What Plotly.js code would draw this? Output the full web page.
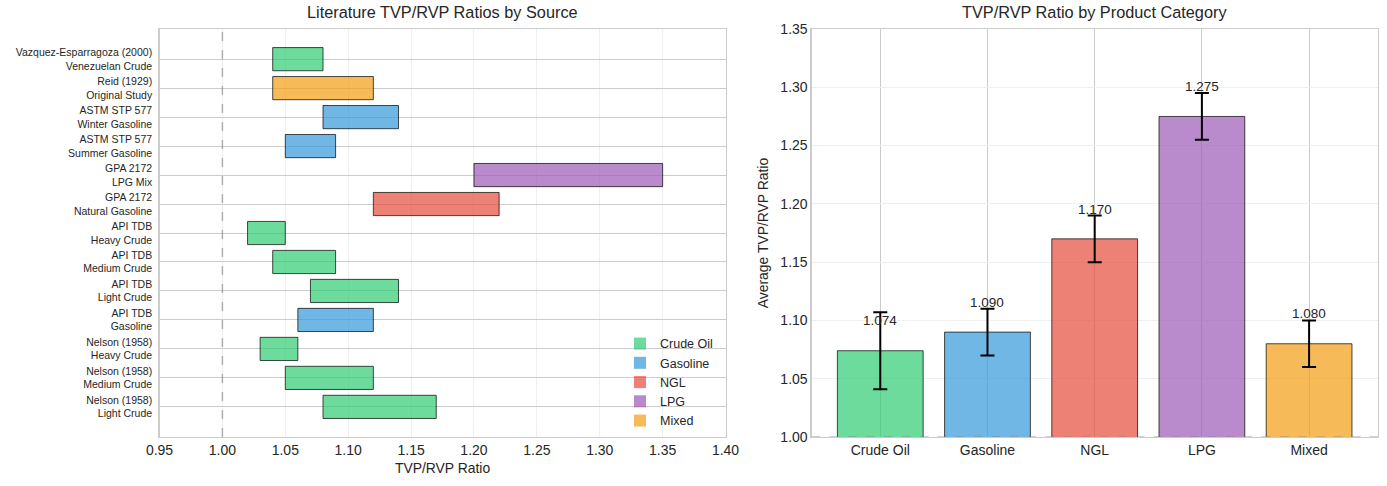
<!DOCTYPE html>
<html>
<head>
<meta charset="utf-8">
<script src="https://cdn.plot.ly/plotly-3.0.1.min.js"></script>
<style>
  body { margin: 0; background: #fff; }
  #chart { width: 1387px; height: 486px; }
</style>
</head>
<body>
<div id="chart"></div>
<script>
// literature sources, bottom to top
var sources = [
  'Nelson (1958)<br>Light Crude',
  'Nelson (1958)<br>Medium Crude',
  'Nelson (1958)<br>Heavy Crude',
  'API TDB<br>Gasoline',
  'API TDB<br>Light Crude',
  'API TDB<br>Medium Crude',
  'API TDB<br>Heavy Crude',
  'GPA 2172<br>Natural Gasoline',
  'GPA 2172<br>LPG Mix',
  'ASTM STP 577<br>Summer Gasoline',
  'ASTM STP 577<br>Winter Gasoline',
  'Reid (1929)<br>Original Study',
  'Vazquez-Esparragoza (2000)<br>Venezuelan Crude'
];
var sourceType = ['Crude Oil', 'Crude Oil', 'Crude Oil', 'Gasoline', 'Crude Oil', 'Crude Oil', 'Crude Oil',
                  'NGL', 'LPG', 'Gasoline', 'Gasoline', 'Mixed', 'Crude Oil'];
var ratioLow  = [1.08, 1.05, 1.03, 1.06, 1.07, 1.04, 1.02, 1.12, 1.20, 1.05, 1.08, 1.04, 1.04];
var ratioHigh = [1.17, 1.12, 1.06, 1.12, 1.14, 1.09, 1.05, 1.22, 1.35, 1.09, 1.14, 1.12, 1.08];

// category summary
var categories = ['Crude Oil', 'Gasoline', 'NGL', 'LPG', 'Mixed'];
var avgRatio = [1.074, 1.090, 1.170, 1.275, 1.080];
var stdRatio = [0.033, 0.020, 0.020, 0.020, 0.020];

var colors = {
  'Crude Oil': 'rgba(46,204,113,0.7)',
  'Gasoline': 'rgba(52,152,219,0.7)',
  'NGL': 'rgba(231,76,60,0.7)',
  'LPG': 'rgba(155,89,182,0.7)',
  'Mixed': 'rgba(243,156,18,0.7)'
};

var FONT = 'Liberation Sans, Arial, sans-serif';
var edge = {color: 'rgba(0,0,0,0.7)', width: 1};

var data = [];

// one trace per product type
categories.forEach(function (cat) {
  var ys = [], lo = [], span = [];
  sources.forEach(function (s, i) {
    if (sourceType[i] === cat) {
      ys.push(s);
      lo.push(ratioLow[i]);
      span.push(+(ratioHigh[i] - ratioLow[i]).toFixed(3));
    }
  });
  data.push({
    type: 'bar',
    orientation: 'h',
    y: ys,
    x: span,
    base: lo,
    width: 0.8,
    name: cat,
    legendgroup: cat,
    showlegend: false,
    marker: {color: colors[cat], line: edge},
    xaxis: 'x',
    yaxis: 'y',
    hoverinfo: 'none'
  });
});

// legend keys without outline (like matplotlib patches)
categories.forEach(function (cat) {
  data.push({
    type: 'bar',
    orientation: 'h',
    y: [null],
    x: [null],
    name: cat,
    legendgroup: cat,
    marker: {color: colors[cat], line: {width: 0}},
    xaxis: 'x',
    yaxis: 'y',
    hoverinfo: 'none'
  });
});

data.push({
  type: 'bar',
  x: categories,
  y: avgRatio,
  width: 0.8,
  marker: {color: categories.map(function (c) { return colors[c]; }), line: edge},
  error_y: {type: 'data', array: stdRatio, visible: true, color: '#000', thickness: 2, width: 7},
  xaxis: 'x2',
  yaxis: 'y2',
  showlegend: false,
  hoverinfo: 'none'
});

var annotations = [
  {text: 'Literature TVP/RVP Ratios by Source', xref: 'paper', yref: 'paper',
   x: 0.319, y: 0.952, xanchor: 'center', yanchor: 'bottom', showarrow: false,
   font: {size: 16.3, color: '#262626', family: FONT}},
  {text: 'TVP/RVP Ratio by Product Category', xref: 'paper', yref: 'paper',
   x: 0.7893, y: 0.952, xanchor: 'center', yanchor: 'bottom', showarrow: false,
   font: {size: 16.3, color: '#262626', family: FONT}}
];
categories.forEach(function (c, i) {
  annotations.push({
    text: avgRatio[i].toFixed(3), x: c, y: avgRatio[i] + 0.02, xref: 'x2', yref: 'y2',
    xanchor: 'center', yanchor: 'bottom', showarrow: false, yshift: -3,
    font: {size: 13.5, color: '#262626', family: FONT}
  });
});

var layout = {
  width: 1387,
  height: 486,
  margin: {l: 0, r: 0, t: 0, b: 0},
  paper_bgcolor: '#fff',
  plot_bgcolor: '#fff',
  font: {family: FONT, color: '#262626'},
  bargap: 0,
  barmode: 'overlay',
  showlegend: true,
  legend: {
    x: 0.447, y: 0.103, xanchor: 'left', yanchor: 'bottom',
    bgcolor: 'rgba(255,255,255,0)', font: {size: 12.5, family: FONT, color: '#262626'},
    tracegroupgap: 0, itemwidth: 30
  },
  xaxis: {
    domain: [0.115, 0.5231],
    anchor: 'y',
    range: [0.95, 1.40],
    tickvals: [0.95, 1.00, 1.05, 1.10, 1.15, 1.20, 1.25, 1.30, 1.35, 1.40],
    tickformat: '.2f',
    gridcolor: '#efefef',
    showline: true, mirror: true, linecolor: '#cccccc', linewidth: 1.25,
    zeroline: false,
    ticks: '', tickfont: {size: 14, color: '#262626'},
    title: {text: 'TVP/RVP Ratio', font: {size: 13.9, color: '#262626'}, standoff: 6}
  },
  yaxis: {
    domain: [0.1008, 0.9403],
    anchor: 'x',
    type: 'category',
    categoryorder: 'array',
    categoryarray: sources,
    range: [-1.04, 13.04],
    gridcolor: '#cccccc',
    showline: true, mirror: true, linecolor: '#cccccc', linewidth: 1.25,
    ticks: '', ticklabelstandoff: 4,
    tickfont: {size: 10.5, color: '#262626'}
  },
  xaxis2: {
    domain: [0.5852, 0.9933],
    anchor: 'y2',
    type: 'category',
    range: [-0.64, 4.64],
    gridcolor: '#cccccc',
    showgrid: true,
    showline: true, mirror: true, linecolor: '#cccccc', linewidth: 1.25,
    ticks: '', tickfont: {size: 14, color: '#262626'}
  },
  yaxis2: {
    domain: [0.1008, 0.9403],
    anchor: 'x2',
    range: [1.00, 1.35],
    dtick: 0.05,
    tickformat: '.2f',
    gridcolor: '#efefef',
    zeroline: false,
    showline: true, mirror: true, linecolor: '#cccccc', linewidth: 1.25,
    ticks: '', tickfont: {size: 14, color: '#262626'},
    title: {text: 'Average TVP/RVP Ratio', font: {size: 13.9, color: '#262626'}, standoff: 8}
  },
  shapes: [
    {type: 'line', xref: 'x', yref: 'y domain', x0: 1.0, x1: 1.0, y0: 0, y1: 1,
     line: {color: 'rgba(128,128,128,0.6)', width: 1.5, dash: 'dash'}},
    {type: 'line', xref: 'x2 domain', yref: 'y2', x0: 0, x1: 1, y0: 1.0, y1: 1.0,
     line: {color: 'rgba(128,128,128,0.5)', width: 1.5, dash: 'dash'}}
  ],
  annotations: annotations
};

Plotly.newPlot('chart', data, layout, {displayModeBar: false, staticPlot: true});
</script>
</body>
</html>
